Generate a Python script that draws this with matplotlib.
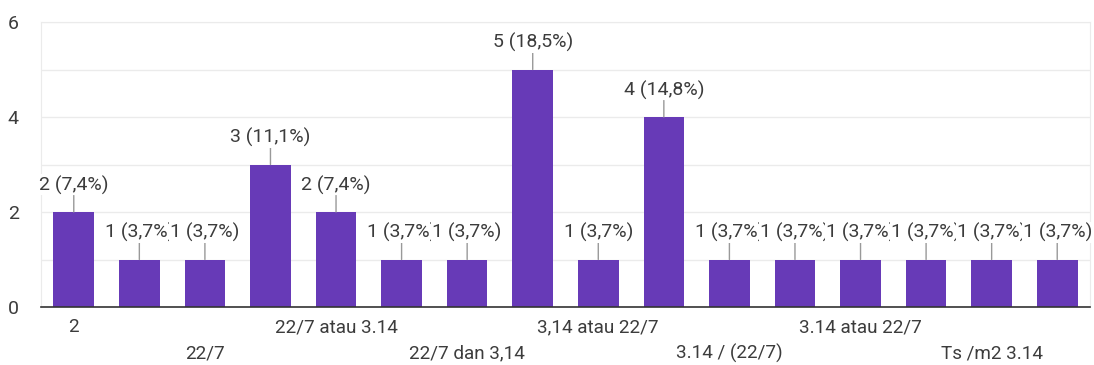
import matplotlib
matplotlib.use("Agg")
import matplotlib.pyplot as plt

# Responses per answer (27 total)
categories = ["2", "", "22/7", "", "22/7 atau 3.14", "", "22/7 dan 3,14", "",
              "3,14 atau 22/7", "", "3.14 / (22/7)", "", "3.14 atau 22/7", "",
              "Ts /m2 3.14", ""]
counts = [2, 1, 1, 3, 2, 1, 1, 5, 1, 4, 1, 1, 1, 1, 1, 1]
y_ticks = [0, 2, 4, 6]

BAR = "#673ab7"
TEXT = "#3c3c3c"

plt.rcParams["font.family"] = ["Roboto", "DejaVu Sans"]

fig = plt.figure(figsize=(10.94, 3.65), dpi=100)
ax = fig.add_axes([41 / 1094, 58 / 365, 1049 / 1094, 285 / 365])

x = list(range(len(counts)))
ax.bar(x, counts, width=0.62, color=BAR, zorder=2)

ax.set_xlim(-0.5, len(counts) - 0.5)
ax.set_ylim(0, 6)
ax.set_yticks(y_ticks)
ax.set_yticks(range(0, 7), minor=True)
ax.yaxis.grid(True, which="both", color="#ebebeb", linewidth=1, zorder=0)
ax.tick_params(axis="y", which="both", length=0, pad=20, labelsize=14, labelcolor=TEXT)
for lbl in ax.get_yticklabels():
    lbl.set_horizontalalignment("center")

# x labels alternate between two rows
ax.set_xticks(x)
ax.set_xticklabels([])
ax.tick_params(axis="x", length=0)
for i, name in enumerate(categories):
    if not name:
        continue
    row = (i // 2) % 2
    ax.annotate(name, xy=(i, 0), xycoords=("data", "axes fraction"),
                xytext=(0, -14.5 - row * 19), textcoords="offset points",
                ha="center", va="center", fontsize=13.6, color=TEXT)

for side in ("left", "right", "top"):
    ax.spines[side].set_color("#ebebeb")
ax.spines["bottom"].set_color("#333333")
ax.spines["bottom"].set_linewidth(1.2)
ax.spines["bottom"].set_zorder(3)

total = sum(counts)
for i, v in enumerate(counts):
    pct = f"{100 * v / total:.1f}".replace(".", ",")
    ax.annotate(f"{v} ({pct}%)", xy=(i, v), xytext=(0, 19.5),
                textcoords="offset points", ha="center", va="center",
                fontsize=14, color=TEXT, zorder=4 + i * 0.01,
                bbox=dict(boxstyle="square,pad=0.05", fc="white", ec="none"),
                arrowprops=dict(arrowstyle="-", color="#999999", lw=1,
                                shrinkA=0, shrinkB=0))

fig.savefig("out.png", dpi=100, facecolor="white")
